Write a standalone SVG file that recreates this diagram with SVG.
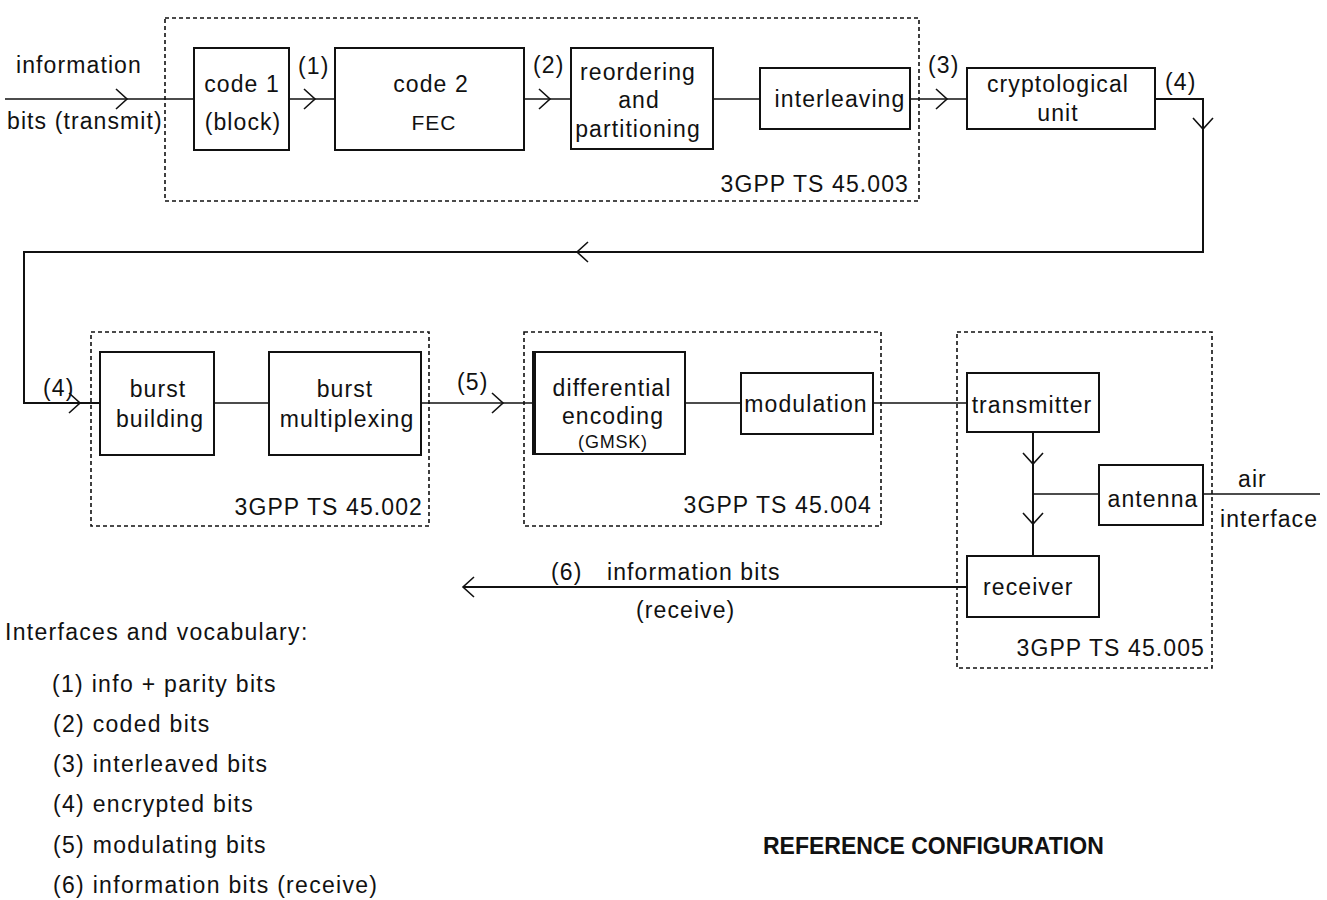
<svg xmlns="http://www.w3.org/2000/svg" width="1327" height="900" viewBox="0 0 1327 900">
<style>
  text { font-family: "Liberation Sans", Arial, sans-serif; fill: #111; font-size: 23px; letter-spacing: 1.1px; }
  .c { text-anchor: middle; }
  .e { text-anchor: end; }
  .small { font-size: 21px; letter-spacing: 1px; }
  .tiny { font-size: 18px; letter-spacing: 0.8px; }
  .legend { letter-spacing: 1.3px; }
  .title { font-weight: bold; letter-spacing: 0px; }
  .box { fill: #fff; stroke: #111; stroke-width: 2; }
  .grp { fill: none; stroke: #111; stroke-width: 1.6; stroke-dasharray: 4 3; }
  .wire { fill: none; stroke: #111; stroke-width: 1.6; }
  .chev { fill: none; stroke: #111; stroke-width: 1.6; }
</style>
<defs>
  <path id="chev" d="M-11,-10 L0,0 L-11,10"/>
</defs>
<rect width="1327" height="900" fill="#fff"/>

<g id="groups">
  <rect id="g45003" class="grp" x="165" y="18" width="754" height="183"/>
  <rect id="g45002" class="grp" x="91" y="332" width="338" height="194"/>
  <rect id="g45004" class="grp" x="524" y="332" width="357" height="194"/>
  <rect id="g45005" class="grp" x="957" y="332" width="255" height="336"/>
  <text class="e" x="909" y="192">3GPP TS 45.003</text>
  <text class="e" x="423" y="515">3GPP TS 45.002</text>
  <text class="e" x="872" y="513">3GPP TS 45.004</text>
  <text class="e" x="1205" y="656">3GPP TS 45.005</text>
</g>

<g id="connectors">
  <path class="wire" d="M5,99 H194"/>
  <path class="wire" d="M289,99 H335"/>
  <path class="wire" d="M524,99 H571"/>
  <path class="wire" d="M713,99 H760"/>
  <path class="wire" d="M910,99 H967"/>
  <path class="wire" style="stroke-width:2" d="M1155,99 H1203 V252 H24 V403 H100"/>
  <path class="wire" d="M214,403 H269"/>
  <path class="wire" d="M421,403 H533"/>
  <path class="wire" d="M685,403 H741"/>
  <path class="wire" d="M873,403 H967"/>
  <path class="wire" style="stroke-width:2" d="M1033,432 V556"/>
  <path class="wire" d="M1033,494 H1099"/>
  <path class="wire" d="M1203,494 H1320"/>
  <path class="wire" style="stroke-width:2" d="M967,587 H463"/>
  <use href="#chev" class="chev" transform="translate(127,99)"/>
  <use href="#chev" class="chev" transform="translate(315,99)"/>
  <use href="#chev" class="chev" transform="translate(550,99)"/>
  <use href="#chev" class="chev" transform="translate(947,99)"/>
  <use href="#chev" class="chev" transform="translate(1203,129) rotate(90)"/>
  <use href="#chev" class="chev" transform="translate(577,252) rotate(180)"/>
  <use href="#chev" class="chev" transform="translate(80,403)"/>
  <use href="#chev" class="chev" transform="translate(503,403)"/>
  <use href="#chev" class="chev" transform="translate(1033,464) rotate(90)"/>
  <use href="#chev" class="chev" transform="translate(1033,524) rotate(90)"/>
  <use href="#chev" class="chev" transform="translate(463,587) rotate(180)"/>
  <text x="16" y="73">information</text>
  <text x="7" y="129">bits (transmit)</text>
  <text x="298" y="74">(1)</text>
  <text x="533" y="73">(2)</text>
  <text x="928" y="73">(3)</text>
  <text x="1165" y="90">(4)</text>
  <text x="43" y="396">(4)</text>
  <text x="457" y="390">(5)</text>
  <text x="1238" y="487">air</text>
  <text x="1220" y="527">interface</text>
  <text x="551" y="580">(6)</text>
  <text x="607" y="580">information bits</text>
  <text x="636" y="618">(receive)</text>
</g>

<g id="code1">
  <rect class="box" x="194" y="48" width="95" height="102"/>
  <text class="c" x="242" y="92">code 1</text>
  <text class="c" x="243" y="130">(block)</text>
</g>
<g id="code2">
  <rect class="box" x="335" y="48" width="189" height="102"/>
  <text class="c" x="431" y="92">code 2</text>
  <text class="c small" x="434" y="130">FEC</text>
</g>
<g id="reordering">
  <rect class="box" x="571" y="48" width="142" height="101"/>
  <text class="c" x="638" y="80">reordering</text>
  <text class="c" x="639" y="108">and</text>
  <text class="c" x="638" y="137">partitioning</text>
</g>
<g id="interleaving">
  <rect class="box" x="760" y="68" width="150" height="61"/>
  <text class="c" x="840" y="107">interleaving</text>
</g>
<g id="crypto">
  <rect class="box" x="967" y="68" width="188" height="61"/>
  <text class="c" x="1058" y="92">cryptological</text>
  <text class="c" x="1058" y="121">unit</text>
</g>
<g id="burstbuilding">
  <rect class="box" x="100" y="352" width="114" height="103"/>
  <text class="c" x="158" y="397">burst</text>
  <text class="c" x="160" y="427">building</text>
</g>
<g id="burstmux">
  <rect class="box" x="269" y="352" width="152" height="103"/>
  <text class="c" x="345" y="397">burst</text>
  <text class="c" x="347" y="427">multiplexing</text>
</g>
<g id="diffenc">
  <rect class="box" x="533" y="352" width="152" height="102"/>
  <path d="M534.5,352 V454" stroke="#111" stroke-width="3"/>
  <text class="c" x="612" y="396">differential</text>
  <text class="c" x="613" y="424">encoding</text>
  <text class="c tiny" x="613" y="448">(GMSK)</text>
</g>
<g id="modulation">
  <rect class="box" x="741" y="373" width="132" height="61"/>
  <text class="c" x="806" y="412">modulation</text>
</g>
<g id="transmitter">
  <rect class="box" x="967" y="373" width="132" height="59"/>
  <text class="c" x="1032" y="413">transmitter</text>
</g>
<g id="antenna">
  <rect class="box" x="1099" y="465" width="104" height="60"/>
  <text class="c" x="1153" y="507">antenna</text>
</g>
<g id="receiver">
  <rect class="box" x="967" y="556" width="132" height="61"/>
  <text x="983" y="595">receiver</text>
</g>

<g id="legend">
  <text class="legend" x="5" y="640">Interfaces and vocabulary:</text>
  <text class="legend" x="52" y="692">(1) info + parity bits</text>
  <text class="legend" x="53" y="732">(2) coded bits</text>
  <text class="legend" x="53" y="772">(3) interleaved bits</text>
  <text class="legend" x="53" y="812">(4) encrypted bits</text>
  <text class="legend" x="53" y="853">(5) modulating bits</text>
  <text class="legend" x="53" y="893">(6) information bits (receive)</text>
  <text class="title" x="763" y="854">REFERENCE CONFIGURATION</text>
</g>
</svg>
